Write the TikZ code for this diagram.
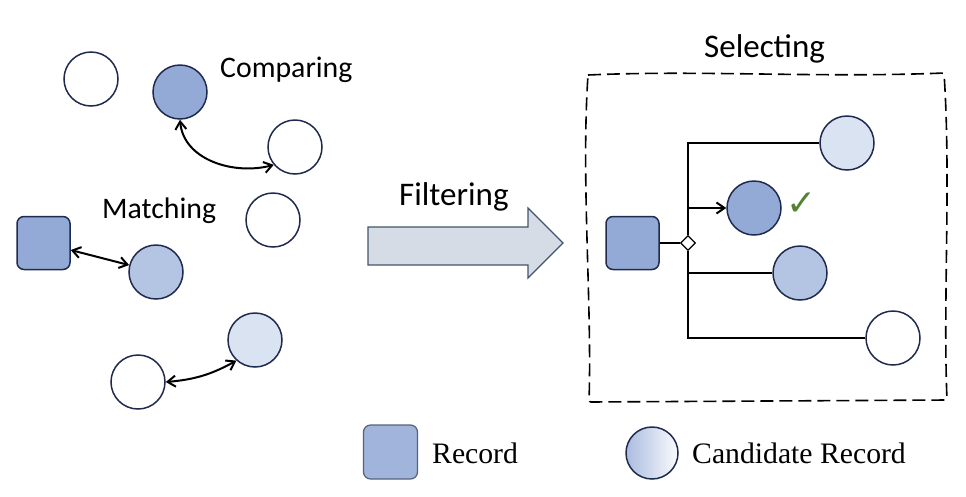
\documentclass[tikz,border=0pt]{standalone}
\usepackage{fontspec}
\setmainfont{Liberation Serif}
\newfontfamily\labelfont{Carlito}
\newfontfamily\symfont{DejaVu Sans}
\usetikzlibrary{arrows.meta,shapes.geometric}

\definecolor{navy}{HTML}{1F2A4E}
\definecolor{recblue}{HTML}{94AAD6}
\definecolor{midblue}{HTML}{B4C5E4}
\definecolor{paleblue}{HTML}{DAE3F2}
\definecolor{legblue}{HTML}{A0B4DC}
\definecolor{legedge}{HTML}{56627A}
\definecolor{arrowfill}{HTML}{D6DCE5}
\definecolor{arrowedge}{HTML}{44546A}
\definecolor{okgreen}{HTML}{548235}

\tikzset{
  cand/.style={circle, draw=navy, line width=1.5pt, minimum size=54pt, inner sep=0pt},
  rec/.style={rectangle, rounded corners=7pt, draw=navy, line width=1.5pt, fill=recblue,
              minimum width=53pt, minimum height=53pt, inner sep=0pt},
  barb/.tip={Straight Barb[length=8pt,width=11pt]},
  link/.style={line width=2pt, barb-barb},
  branch/.style={line width=2pt},
  tag/.style={font=\labelfont\fontsize{29.8}{34}\selectfont, anchor=base west, inner sep=0pt},
  title/.style={font=\labelfont\fontsize{33}{38}\selectfont, anchor=base west, inner sep=0pt},
  legend/.style={font=\fontsize{29.7}{34}\selectfont, anchor=base west, inner sep=0pt},
}

\begin{document}
\begin{tikzpicture}[x=1pt,y=-1pt]
\useasboundingbox (0,0) rectangle (966,496);

% ---- loose records on the left ----
\node[cand] (e1) at (91,79) {};
\node[cand, fill=recblue] (d1) at (180,92) {};
\node[cand] (e2) at (295,147) {};
\node[cand] (e3) at (273,220) {};
\node[rec] (r1) at (43.5,243) {};
\node[cand, fill=midblue] (m1) at (156,272) {};
\node[cand, fill=paleblue] (p1) at (255,340) {};
\node[cand] (e4) at (138,382) {};

\node[tag] (cmp) at (220,77) {Comparing};
\node[tag] (mat) at (102,218) {Matching};

\draw[link] (d1.south) to[out=-85, in=195] (e2.220);
\draw[link] (r1) -- (m1);
\draw[link] (e4.east) to[bend right=12] (p1.228);

% ---- filtering arrow ----
\filldraw[fill=arrowfill, draw=arrowedge, line width=1.2pt]
  (368,227) -- (528,227) -- (528,208) -- (563,243) -- (528,278) -- (528,265) -- (368,265) -- cycle;
\node[title] (flt) at (399,205) {Filtering};

% ---- selecting panel ----
\node[title] (sel) at (704,57) {Selecting};
\draw[line width=1.6pt, dash pattern=on 13pt off 6pt, rounded corners=2pt]
  (588,75) .. controls (700,70) and (820,78) .. (944,73)
  .. controls (951,180) and (943,300) .. (947,400)
  -- (589,402)
  .. controls (592,300) and (581,180) .. (588,75);

\node[rec] (r2) at (632.5,243) {};
\node[diamond, draw=black, fill=white, line width=1.3pt, minimum size=15pt, inner sep=0pt] (dm) at (688,243) {};
\node[cand, fill=paleblue] (s1) at (847,143) {};
\node[cand, fill=recblue] (s2) at (754,208) {};
\node[cand, fill=midblue] (s3) at (800,273) {};
\node[cand] (s4) at (893,338) {};

\draw[branch] (r2.east) -- (dm.west);
\draw[branch] (s1.west) -| (dm.north);
\draw[branch] (s4.west) -| (dm.south);
\draw[branch, -barb] (dm.north |- s2.west) -- (s2.west);
\draw[branch] (dm.south |- s3.west) -- (s3.west);
\node[text=okgreen, font=\symfont\bfseries\fontsize{36}{40}\selectfont, inner sep=0pt] (ok) at (802,204) {✓};

% ---- legend ----
\node[rectangle, rounded corners=7pt, draw=legedge, line width=1.2pt, fill=legblue,
      minimum width=54pt, minimum height=54pt, inner sep=0pt] (lr) at (390.5,452) {};
\node[legend] (lrt) at (432,463) {Record};
\node[circle, draw=navy, line width=1.5pt, minimum size=52pt, inner sep=0pt,
      left color=legblue!90, right color=white!95!legblue] (lc) at (652,453) {};
\node[legend] (lct) at (692,463) {Candidate Record};
\end{tikzpicture}
\end{document}
